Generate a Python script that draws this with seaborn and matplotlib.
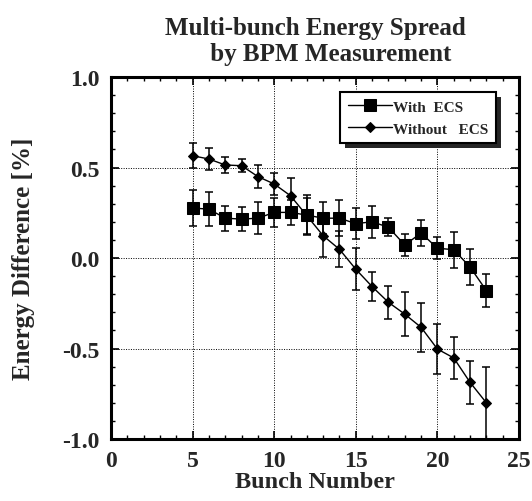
import matplotlib
matplotlib.use("Agg")
import matplotlib.pyplot as plt
from matplotlib.patches import Rectangle
import seaborn as sns
import pandas as pd
import numpy as np

# Data
bunch = [5, 6, 7, 8, 9, 10, 11, 12, 13, 14, 15, 16, 17, 18, 19, 20, 21, 22, 23]
with_ecs = [0.276, 0.27, 0.22, 0.215, 0.22, 0.252, 0.252, 0.237, 0.22, 0.22,
            0.19, 0.20, 0.17, 0.072, 0.138, 0.054, 0.046, -0.05, -0.18]
with_err = [0.10, 0.095, 0.07, 0.065, 0.09, 0.08, 0.07, 0.11, 0.09, 0.10,
            0.085, 0.09, 0.05, 0.06, 0.07, 0.06, 0.10, 0.10, 0.09]
without_ecs = [0.565, 0.547, 0.514, 0.51, 0.45, 0.409, 0.344, 0.234, 0.123, 0.048,
               -0.062, -0.158, -0.245, -0.31, -0.383, -0.503, -0.552, -0.687, -0.80]
without_err = [0.07, 0.06, 0.045, 0.035, 0.065, 0.06, 0.10, 0.10, 0.12, 0.10,
               0.117, 0.08, 0.09, 0.12, 0.136, 0.14, 0.117, 0.12, 0.20]

sns.set_theme(style="ticks")
plt.rcParams["font.family"] = ["Liberation Serif", "DejaVu Serif"]
plt.rcParams["font.weight"] = "bold"

df = pd.DataFrame({
    "bunch": bunch * 2,
    "diff": with_ecs + without_ecs,
    "series": ["With  ECS"] * len(bunch) + ["Without   ECS"] * len(bunch),
})

fig = plt.figure(figsize=(5.32, 5.02), dpi=100)
ax = fig.add_axes([0.2086, 0.1235, 0.767, 0.7211])

ax.errorbar(bunch, with_ecs, yerr=with_err, fmt="none", ecolor="black",
            elinewidth=1.1, capsize=3, capthick=1.1, zorder=2)
ax.errorbar(bunch, without_ecs, yerr=without_err, fmt="none", ecolor="black",
            elinewidth=1.1, capsize=3, capthick=1.1, zorder=2)

sns.lineplot(data=df, x="bunch", y="diff", style="series", markers=["s", "D"],
             dashes=False, color="black", linewidth=1.0, markersize=8,
             markeredgecolor="black", ax=ax, zorder=3)

handles, labels = ax.get_legend_handles_labels()
# squares are bigger than the diamonds in the original
for line in ax.get_lines() + handles:
    if line.get_marker() == "s":
        line.set_markersize(8.3)
    elif line.get_marker() == "D":
        line.set_markersize(5.4)

ax.set_xlim(0, 25)
ax.set_ylim(-1.0, 1.0)
ax.set_xticks([0, 5, 10, 15, 20, 25])
ax.set_yticks([-1.0, -0.5, 0.0, 0.5, 1.0])
ax.set_yticklabels(["-1.0", "-0.5", "0.0", "0.5", "1.0"])
ax.set_xticks(np.arange(0, 26, 1), minor=True)
ax.set_yticks(np.arange(-1.0, 1.01, 0.1), minor=True)
ax.tick_params(which="both", direction="in", top=True, right=True, color="black")
ax.tick_params(which="major", length=6, width=1.2, labelsize=17)
ax.tick_params(axis="x", which="major", pad=8)
ax.tick_params(axis="y", which="major", pad=8)
ax.tick_params(which="minor", length=3, width=1)
for lab in ax.get_xticklabels() + ax.get_yticklabels():
    lab.set_fontweight("bold")
ax.grid(True, which="major", linestyle=(0, (1, 1.5)), color="black", linewidth=0.7)
for sp in ax.spines.values():
    sp.set_linewidth(2.2)
    sp.set_color("black")

ax.set_xlabel("Bunch Number", fontsize=17.5, fontweight="bold", labelpad=0)
ax.set_ylabel("Energy Difference [%]", fontsize=18, fontweight="bold")
ax.yaxis.set_label_coords(-0.186, 0.5)
ax.set_title("Multi-bunch Energy Spread\n     by BPM Measurement", fontsize=18,
             fontweight="bold", pad=12, linespacing=1.2)

leg = ax.legend(handles, labels, loc="upper right", bbox_to_anchor=(0.943, 0.958),
                borderaxespad=0, frameon=True, shadow=False, fancybox=False,
                handlelength=2.9, prop={"weight": "bold", "size": 11},
                borderpad=0.5, labelspacing=0.55, handletextpad=0.05,
                edgecolor="black", framealpha=1)
leg.get_frame().set_linewidth(1.5)
leg.set_zorder(10)

# dark drop shadow behind the legend box
fig.canvas.draw()
bb = leg.get_frame().get_window_extent().transformed(ax.transAxes.inverted())
dx = 5 / (ax.bbox.width)
dy = 5 / (ax.bbox.height)
shadow = Rectangle((bb.x0 + dx, bb.y0 - dy), bb.width, bb.height,
                   transform=ax.transAxes, facecolor="0.15", edgecolor="none",
                   zorder=9, clip_on=False)
ax.add_patch(shadow)

fig.savefig("out.png", dpi=100)
